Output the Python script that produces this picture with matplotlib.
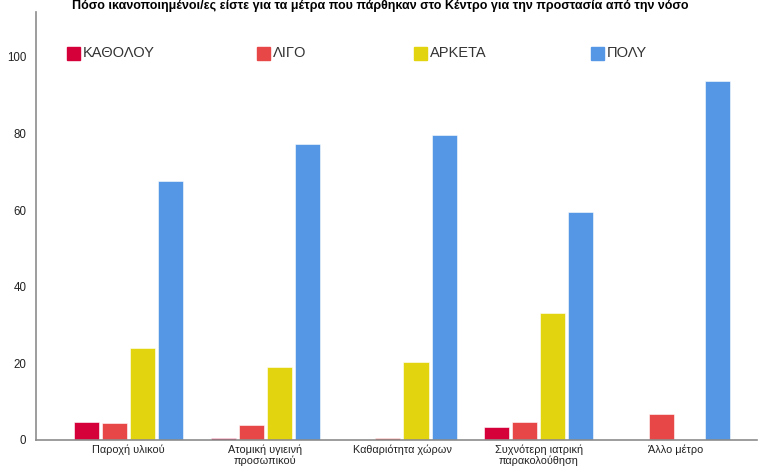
import numpy as np
import matplotlib.pyplot as plt
from matplotlib.patches import Rectangle

plt.rcParams['font.family'] = ['Liberation Sans', 'DejaVu Sans']

categories = ['Παροχή υλικού', 'Ατομική υγιεινή\nπροσωπικού', 'Καθαριότητα χώρων',
              'Συχνότερη ιατρική\nπαρακολούθηση', 'Άλλο μέτρο']
series = ['ΚΑΘΟΛΟΥ', 'ΛΙΓΟ', 'ΑΡΚΕΤΑ', 'ΠΟΛΥ']
katholou = [4.7, 0.5, 0.0, 3.5, 0.0]
ligo = [4.4, 4.0, 0.5, 4.8, 6.8]
arketa = [23.9, 19.0, 20.4, 33.1, 0.0]
poly = [67.6, 77.2, 79.6, 59.4, 93.7]
colors = ['#d5003a', '#e84747', '#e2d50f', '#5596e5']
title = 'Πόσο ικανοποιημένοι/ες είστε για τα μέτρα που πάρθηκαν στο Κέντρο για την προστασία από την νόσο'

fig = plt.figure(figsize=(7.61, 4.66), dpi=100)
ax = fig.add_axes([36/761, 26/466, 721/761, 428/466])

x = np.arange(len(categories))
w = 0.183
step = 0.205
for i, (vals, c) in enumerate(zip([katholou, ligo, arketa, poly], colors)):
    ax.bar(x + (i - 1.5) * step, vals, width=w, color=c, edgecolor='white', linewidth=0.4)

ax.set_xlim(-0.676, 4.596)
ax.set_ylim(0, 111.7)
ax.set_yticks([0, 20, 40, 60, 80, 100])
ax.set_xticks(x)
ax.set_xticklabels(categories, fontsize=7.8, linespacing=1.05)
ax.tick_params(axis='both', length=0, colors='#222222')
ax.tick_params(axis='y', labelsize=8.3, pad=7)
ax.tick_params(axis='x', pad=3)
for s in ['top', 'right']:
    ax.spines[s].set_visible(False)
for s in ['left', 'bottom']:
    ax.spines[s].set_color('#8c8c8c')
    ax.spines[s].set_linewidth(1.2)

# legend placed manually like the original
leg_x = [67, 257, 414, 591]
for name, c, lx in zip(series, colors, leg_x):
    fig.patches.append(Rectangle((lx/761, (466-60)/466), 13/761, 13/466,
                                 transform=fig.transFigure, color=c))
    fig.text((lx + 16)/761, (466-53)/466, name, fontsize=10.5, color='#333333',
             va='center', ha='left')

fig.text(0.5, 0.999, title, fontsize=9, fontweight='bold', ha='center', va='top')

fig.savefig('out.png', dpi=100)
